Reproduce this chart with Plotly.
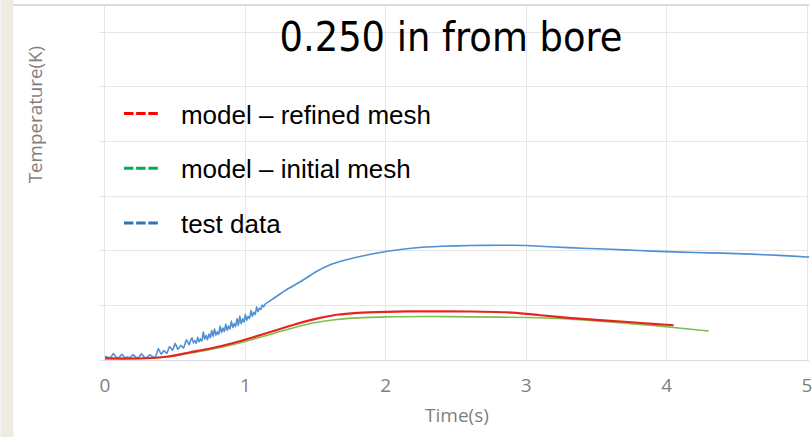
import plotly.graph_objects as go

# ---- chart text ----
title_text = "0.250 in from bore"
x_title = "Time(s)"
y_title = "Temperature(K)"
x_tick_vals = [0, 1, 2, 3, 4, 5]
series_names = ["model – refined mesh", "model – initial mesh", "test data"]

# ---- measured thermocouple signal (noisy while heating starts) ----
test_t = [
    0.00, 0.02, 0.04, 0.06, 0.08, 0.10, 0.12, 0.14, 0.16, 0.18,
    0.20, 0.22, 0.24, 0.26, 0.28, 0.30, 0.32, 0.34, 0.36, 0.38,
    0.40, 0.42, 0.44, 0.46, 0.48, 0.50, 0.52, 0.54, 0.56, 0.58,
    0.60, 0.61, 0.62, 0.63, 0.64, 0.65, 0.66, 0.67, 0.68, 0.69,
    0.70, 0.71, 0.72, 0.73, 0.74, 0.75, 0.76, 0.77, 0.78, 0.79,
    0.80, 0.81, 0.82, 0.83, 0.84, 0.85, 0.86, 0.87, 0.88, 0.89,
    0.90, 0.91, 0.92, 0.93, 0.94, 0.95, 0.96, 0.97, 0.98, 0.99,
    1.00, 1.01, 1.02, 1.03, 1.04, 1.05, 1.06, 1.07, 1.08, 1.09,
    1.10, 1.11, 1.12, 1.13, 1.14,
    1.2, 1.3, 1.4, 1.5, 1.6, 1.7, 1.8, 1.9, 2.0, 2.2, 2.4, 2.6, 2.8,
    3.0, 3.2, 3.4, 3.6, 3.8, 4.0, 4.2, 4.4, 4.6, 4.8, 5.0, 5.05,
]
test_temp = [
    303.5, 302.6, 302.4, 305.8, 302.5, 302.3, 305.2, 302.4, 302.6, 302.3,
    304.9, 302.5, 302.4, 305.6, 302.6, 302.5, 304.8, 302.8, 303.0, 310.5,
    305.2, 308.6, 306.0, 312.4, 308.8, 315.2, 309.6, 313.5, 311.0, 318.6,
    313.8, 318.2, 320.4, 315.5, 317.9, 315.2, 321.0, 316.6, 319.4, 317.2,
    325.8, 319.0, 322.6, 318.4, 324.0, 320.2, 327.1, 321.4, 328.6, 322.5,
    326.0, 323.2, 331.0, 325.0, 329.4, 325.8, 333.0, 327.0, 331.2, 328.1,
    335.6, 329.6, 333.4, 330.4, 338.0, 331.5, 340.2, 333.0, 337.8, 334.6,
    341.8, 336.2, 340.0, 337.9, 345.6, 339.8, 344.0, 341.5, 348.8, 344.2,
    347.5, 346.2, 350.4, 348.6, 351.0,
    356.3, 365.0, 372.3, 380.6, 387.0, 391.1, 394.3, 397.0, 399.3, 402.5, 404.1, 404.8, 405.1,
    404.8, 403.5, 402.3, 401.4, 400.2, 399.2, 398.4, 397.8, 396.9, 395.8, 394.3, 394.0,
]

# ---- simulation, refined mesh ----
refined_t = [0.0, 0.3, 0.45, 0.6, 0.75, 0.9, 1.05, 1.2, 1.35, 1.5, 1.65, 1.8,
             2.0, 2.3, 2.6, 2.85, 3.0, 3.1, 3.3, 3.5, 3.7, 3.9, 4.05]
refined_temp = [301.4, 301.6, 303.2, 306.9, 310.5, 315.1, 320.6, 326.5, 332.5, 337.7, 341.4, 343.2,
                344.1, 344.6, 344.4, 343.7, 342.3, 341.0, 338.6, 336.8, 335.0, 333.1, 331.8]

# ---- simulation, initial mesh ----
initial_t = [0.0, 0.3, 0.45, 0.6, 0.75, 0.9, 1.05, 1.2, 1.35, 1.5, 1.65, 1.8,
             2.0, 2.3, 2.6, 3.0, 3.3, 3.6, 3.9, 4.05, 4.3]
initial_temp = [301.4, 301.6, 302.9, 306.2, 309.6, 313.7, 318.8, 324.3, 329.8, 334.3, 337.1, 338.6,
                339.5, 339.8, 339.5, 338.9, 337.5, 334.8, 331.6, 329.8, 326.5]

# ---- styling ----
curve_colors = {"refined": "#E8231F", "initial": "#7DBE4E", "test": "#4F8FD2"}
legend_colors = ["#FF0000", "#00B050", "#2E75B6"]
gray_text = "#7F7F7F"
grid_color = "#E6E6E6"
gray_font = "Open Sans"

W, H = 812, 437
L, R, T, B = 105, 0, 5, 77
plot_w, plot_h = W - L - R, H - T - B
px_per_s = 141.0


def px_x(p):
    """figure pixel column -> paper x"""
    return (p - L) / plot_w


def px_y(p):
    """figure pixel row (from top) -> paper y"""
    return (H - B - p) / plot_h


fig = go.Figure()

fig.add_trace(go.Scatter(x=test_t, y=test_temp, mode="lines", showlegend=False,
                         line=dict(color=curve_colors["test"], width=1.6,
                                   shape="spline", smoothing=0.4)))
fig.add_trace(go.Scatter(x=initial_t, y=initial_temp, mode="lines", showlegend=False,
                         line=dict(color=curve_colors["initial"], width=1.6,
                                   shape="spline", smoothing=0.8)))
fig.add_trace(go.Scatter(x=refined_t, y=refined_temp, mode="lines", showlegend=False,
                         line=dict(color=curve_colors["refined"], width=2.2,
                                   shape="spline", smoothing=0.8)))

# dashed keys for the legend: three short dashes, then a long gap
key_dash = "9.5px,2.7px,9.5px,2.7px,9.5px,60px"
for i, (name, col) in enumerate(zip(series_names, legend_colors)):
    fig.add_trace(go.Scatter(x=[None], y=[None], mode="lines", name=name,
                             legendgroup=f"g{i}",
                             line=dict(color=col, width=3, dash=key_dash)))

fig.update_layout(
    width=W, height=H,
    margin=dict(l=L, r=R, t=T, b=B, pad=0),
    paper_bgcolor="white", plot_bgcolor="white",
    title=dict(text=title_text, x=451 / W, xanchor="center",
               y=(H - 37) / H, yanchor="middle",
               font=dict(family="DejaVu Sans Condensed, DejaVu Sans", size=41,
                         color="black")),
    legend=dict(x=px_x(119), y=px_y(90), xanchor="left", yanchor="top",
                bgcolor="rgba(0,0,0,0)", borderwidth=0,
                font=dict(family="Liberation Sans, Arial", size=26, color="black"),
                itemwidth=52, traceorder="grouped", tracegroupgap=18),
    xaxis=dict(range=[0, plot_w / px_per_s], tickvals=x_tick_vals,
               showgrid=True, gridcolor=grid_color, gridwidth=1,
               zeroline=False, showline=True, linecolor="#D9D9D9", linewidth=1,
               ticks="", ticklabelstandoff=8, ticklabeloverflow="allow",
               tickfont=dict(family=gray_font, size=19, color=gray_text),
               title=dict(text=x_title, standoff=11,
                          font=dict(family=gray_font, size=19, color=gray_text))),
    yaxis=dict(range=[300, 625], tick0=300, dtick=50,
               showgrid=True, gridcolor=grid_color, gridwidth=1,
               zeroline=False, showline=True, linecolor=grid_color,
               showticklabels=False, ticks="outside", ticklen=5, tickcolor=grid_color),
    annotations=[dict(text=y_title, textangle=-90, xref="paper", yref="paper",
                      x=px_x(35), y=px_y(115), xanchor="center", yanchor="middle",
                      showarrow=False,
                      font=dict(family=gray_font, size=18.8, color=gray_text))],
    shapes=[
        # beige strip along the left edge
        dict(type="rect", xref="paper", yref="paper", layer="below",
             x0=px_x(0), x1=px_x(13), y0=px_y(H), y1=px_y(0),
             fillcolor="#EEEBE1", line=dict(width=0)),
        # thin frame line along the top
        dict(type="line", xref="paper", yref="paper",
             x0=px_x(13), x1=1, y0=px_y(5), y1=px_y(5),
             line=dict(color="#DCDCDC", width=2)),
    ],
)

fig.write_html("out.html")
